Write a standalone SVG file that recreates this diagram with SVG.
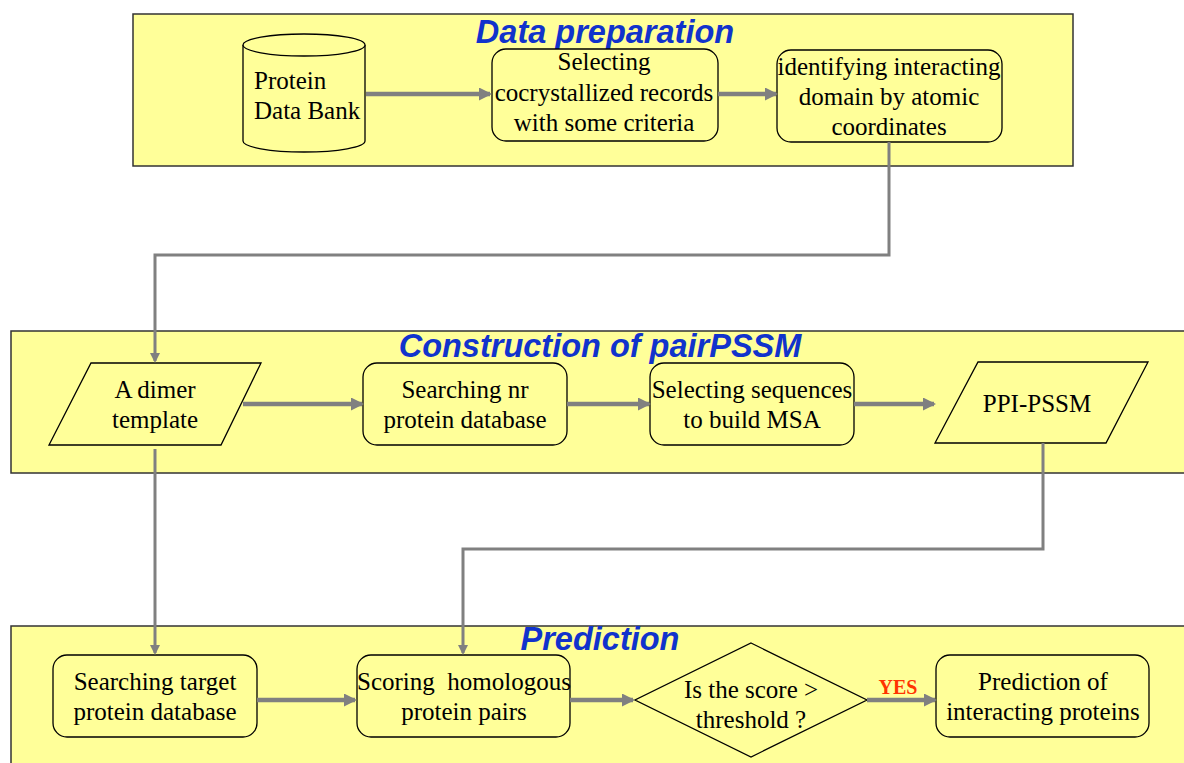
<svg xmlns="http://www.w3.org/2000/svg" width="1184" height="763" viewBox="0 0 1184 763">
<defs>
<marker id="ah" markerWidth="10" markerHeight="10" refX="8" refY="5" orient="auto" markerUnits="userSpaceOnUse" viewBox="0 0 10 10">
<path d="M0,0 L10,5 L0,10 Z" fill="#808080"/>
</marker>
<marker id="ah2" markerWidth="13" markerHeight="13" refX="11" refY="6.5" orient="auto" markerUnits="userSpaceOnUse" viewBox="0 0 13 13">
<path d="M0,0 L13,6.5 L0,13 Z" fill="#808080"/>
</marker>
</defs>
<style>
.panel{fill:#FFFF99;stroke:#333333;stroke-width:1.5}
.node{fill:#FFFF99;stroke:#000000;stroke-width:1.3}
.t{font-family:"Liberation Serif","Times New Roman",serif;font-size:25px;fill:#000;text-anchor:middle}
.title{font-family:"Liberation Sans",Arial,sans-serif;font-size:32.5px;font-weight:bold;font-style:italic;fill:#1133CC;text-anchor:middle}
.c{fill:none;stroke:#808080;stroke-width:3}
.ca{fill:none;stroke:#808080;stroke-width:4.5}
</style>
<rect x="0" y="0" width="1184" height="763" fill="#FFFFFF"/>
<g id="panel-data">
<rect class="panel" x="133" y="14" width="940" height="152"/>
<text class="title" x="605" y="43">Data preparation</text>
</g>
<g id="panel-construction">
<rect class="panel" x="11" y="331" width="1190" height="142"/>
<text class="title" x="600" y="357">Construction of pairPSSM</text>
</g>
<g id="panel-prediction">
<rect class="panel" x="11" y="626" width="1190" height="160"/>
<text class="title" x="600" y="650">Prediction</text>
</g>
<g id="n-pdb">
<path class="node" d="M243,45 L243,141 A61,11 0 0 0 365,141 L365,45 A61,11 0 0 0 243,45 Z"/>
<path class="node" fill="none" d="M243,45 A61,11 0 0 0 365,45"/>
<text class="t" x="254" y="89" style="text-anchor:start">Protein</text>
<text class="t" x="254" y="119" style="text-anchor:start">Data Bank</text>
</g>
<g id="n-select">
<rect class="node" x="492" y="49" width="226" height="92" rx="14"/>
<text class="t" x="604" y="70">Selecting</text>
<text class="t" x="604" y="101">cocrystallized records</text>
<text class="t" x="604" y="131">with some criteria</text>
</g>
<g id="n-identify">
<rect class="node" x="777" y="50" width="225" height="92" rx="14"/>
<text class="t" x="889" y="75">identifying interacting</text>
<text class="t" x="889" y="105">domain by atomic</text>
<text class="t" x="889" y="135">coordinates</text>
</g>
<g id="n-dimer">
<polygon class="node" points="91,363 261,363 221,445 49,445"/>
<text class="t" x="155" y="398">A dimer</text>
<text class="t" x="155" y="428">template</text>
</g>
<g id="n-nr">
<rect class="node" x="363" y="363" width="204" height="82" rx="14"/>
<text class="t" x="465" y="398">Searching nr</text>
<text class="t" x="465" y="428">protein database</text>
</g>
<g id="n-msa">
<rect class="node" x="650" y="363" width="204" height="82" rx="14"/>
<text class="t" x="752" y="398">Selecting sequences</text>
<text class="t" x="752" y="428">to build MSA</text>
</g>
<g id="n-pssm">
<polygon class="node" points="978,362 1148,362 1106,443 935,443"/>
<text class="t" x="1037" y="412">PPI-PSSM</text>
</g>
<g id="n-target">
<rect class="node" x="53" y="655" width="204" height="82" rx="14"/>
<text class="t" x="155" y="690">Searching target</text>
<text class="t" x="155" y="720">protein database</text>
</g>
<g id="n-scoring">
<rect class="node" x="357" y="655" width="213" height="82" rx="14"/>
<text class="t" x="464" y="690" xml:space="preserve">Scoring  homologous</text>
<text class="t" x="464" y="720">protein pairs</text>
</g>
<g id="n-decision">
<polygon class="node" points="751,643 867,700 751,757 635,700"/>
<text class="t" x="751" y="698">Is the score &gt;</text>
<text class="t" x="751" y="728">threshold ?</text>
</g>
<g id="n-result">
<rect class="node" x="936" y="655" width="213" height="82" rx="14"/>
<text class="t" x="1043" y="690">Prediction of</text>
<text class="t" x="1043" y="720">interacting proteins</text>
</g>
<g id="connectors">
<line class="ca" x1="366" y1="94" x2="490" y2="94" marker-end="url(#ah2)"/>
<line class="ca" x1="718" y1="94" x2="776" y2="94" marker-end="url(#ah2)"/>
<polyline class="c" points="889,142 889,255 155,255 155,361" marker-end="url(#ah)"/>
<line class="ca" x1="243" y1="404" x2="362" y2="404" marker-end="url(#ah2)"/>
<line class="ca" x1="567" y1="404" x2="649" y2="404" marker-end="url(#ah2)"/>
<line class="ca" x1="854" y1="404" x2="934" y2="404" marker-end="url(#ah2)"/>
<line class="c" x1="155" y1="449" x2="155" y2="653" marker-end="url(#ah)"/>
<polyline class="c" points="1043,443 1043,549 463,549 463,653" marker-end="url(#ah)"/>
<line class="ca" x1="257" y1="700" x2="355" y2="700" marker-end="url(#ah2)"/>
<line class="ca" x1="570" y1="700" x2="633" y2="700" marker-end="url(#ah2)"/>
<line class="ca" x1="867" y1="700" x2="935" y2="700" marker-end="url(#ah2)"/>
<text x="898" y="694" style="font-family:'Liberation Serif','Times New Roman',serif;font-size:20px;font-weight:bold;fill:#FF3300;text-anchor:middle">YES</text>
</g>
</svg>
